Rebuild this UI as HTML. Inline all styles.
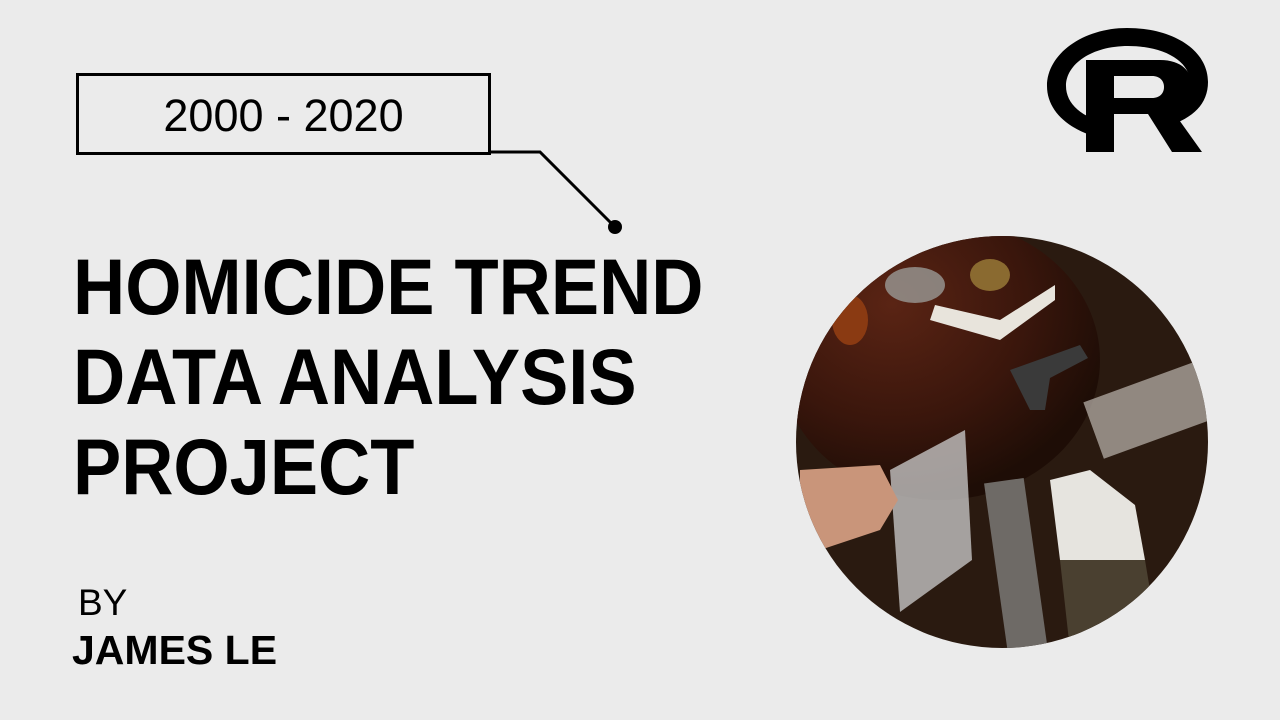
<!DOCTYPE html>
<html><head><meta charset="utf-8"><style>
html,body{margin:0;padding:0;}
body{width:1280px;height:720px;background:#ebebeb;position:relative;overflow:hidden;font-family:"Liberation Sans",sans-serif;color:#000;}
.abs{position:absolute;}
#yearbox{left:76px;top:73px;width:409px;height:76px;border:3px solid #000;font-size:45px;text-align:center;line-height:80px;}
.title{left:73px;font-size:79px;font-weight:bold;line-height:1;white-space:nowrap;transform:scaleX(0.915);transform-origin:0 0;}
</style></head><body>
<div id="yearbox" class="abs">2000 - 2020</div>
<svg class="abs" style="left:0;top:0" width="1280" height="720">
  <polyline points="488,152 540,152 615,227" fill="none" stroke="#000" stroke-width="3"/>
  <circle cx="615" cy="227" r="7" fill="#000"/>
  <g>
    <path fill-rule="evenodd" fill="#000" d="M1127,28 C1173,28 1208,50 1208,82 C1208,104 1193,118 1168,126 L1160,112 C1180,105 1190,95 1190,82 C1190,62 1165,46 1128,46 C1092,46 1066,64 1066,86 C1066,104 1082,118 1110,124 L1110,140 C1074,134 1047,114 1047,86 C1047,54 1083,28 1127,28 Z"/>
    <path fill-rule="evenodd" fill="#000" d="M1086,60 L1160,60 C1182,60 1192,72 1192,86 C1192,98 1184,106 1172,110 L1202,152 L1172,152 L1148,114 L1114,114 L1114,152 L1086,152 Z M1114,76 L1114,98 L1152,98 C1160,98 1164,93 1164,87 C1164,81 1160,76 1152,76 Z"/>
  </g>
  <defs>
    <clipPath id="cc"><circle cx="1002" cy="442" r="206"/></clipPath>
    <radialGradient id="tbl" cx="0.35" cy="0.3" r="0.7">
      <stop offset="0" stop-color="#5a2414"/><stop offset="0.6" stop-color="#3a160c"/><stop offset="1" stop-color="#1e0d06"/>
    </radialGradient>
  </defs>
  <g clip-path="url(#cc)">
    <rect x="790" y="230" width="420" height="420" fill="#2a1a10"/>
    <ellipse cx="940" cy="360" rx="160" ry="140" fill="url(#tbl)"/>
    <rect x="1090" y="380" width="120" height="60" fill="#bdb8b0" opacity="0.7" transform="rotate(-20 1150 410)"/>
    <polygon points="935,305 1000,320 1055,285 1055,300 1000,340 930,320" fill="#e8e4dc"/>
    <ellipse cx="990" cy="275" rx="20" ry="16" fill="#8a6a30"/>
    <ellipse cx="915" cy="285" rx="30" ry="18" fill="#9a9a96" opacity="0.8"/>
    <ellipse cx="850" cy="320" rx="18" ry="25" fill="#8a3a12"/>
    <polygon points="1010,370 1080,345 1088,358 1050,378 1045,410 1030,410" fill="#3a3a3a"/>
    <rect x="995" y="480" width="40" height="170" fill="#6e6a66" transform="rotate(-8 1015 560)"/>
    <polygon points="890,470 965,430 972,560 900,612" fill="#cfcfcf" opacity="0.75"/>
    <polygon points="800,470 880,465 898,500 880,530 820,550 800,540" fill="#c9957a"/>
    <polygon points="1050,480 1090,470 1135,505 1145,560 1110,580 1060,560" fill="#e6e4df"/>
    <polygon points="1060,560 1145,560 1160,650 1070,650" fill="#4a4030"/>
  </g>
</svg>
<div class="abs title" style="top:247px">HOMICIDE TREND</div>
<div class="abs title" style="top:337px">DATA ANALYSIS</div>
<div class="abs title" style="top:427px">PROJECT</div>
<div class="abs" style="left:78px;top:582px;font-size:37px;">BY</div>
<div class="abs" style="left:72px;top:627px;font-size:41px;font-weight:bold;">JAMES LE</div>
</body></html>
